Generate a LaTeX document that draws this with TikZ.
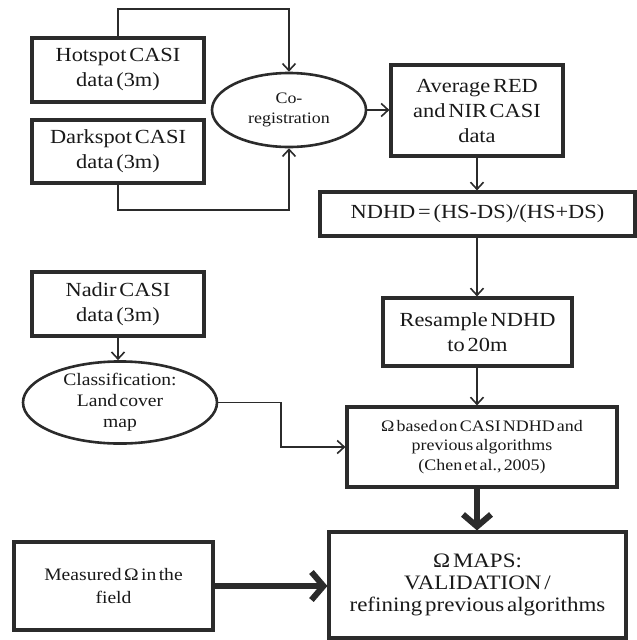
\documentclass[tikz,border=0pt]{standalone}
\usepackage{fontspec}
\setmainfont{Liberation Serif}[FakeStretch=1.12,WordSpace=0.5]
\usetikzlibrary{shapes.geometric,arrows.meta}
\definecolor{ink}{HTML}{2B2B2B}
\begin{document}
\begin{tikzpicture}[x=1pt,y=-1pt,
  box/.style={draw=ink,line width=3.2pt,rectangle,inner sep=0pt,align=center,text=black!90,
    font=\fontsize{20}{25}\selectfont},
  oval/.style={draw=ink,line width=2.6pt,ellipse,inner sep=0pt,align=center,text=black!90},
  thinarrow/.style={draw=ink,line width=1.6pt,-{Straight Barb[length=7pt,width=13pt]}},
  thickarrow/.style={draw=ink,line width=6pt,-{Straight Barb[length=12pt,width=28pt]}}]
\useasboundingbox[fill=white] (0,0) rectangle (637,640);

\node[box,minimum width=172pt,minimum height=64pt] (hot) at (118,70) {Hotspot CASI\\data (3m)};
\node[box,minimum width=172pt,minimum height=63pt] (dark) at (118,151.5) {Darkspot CASI\\data (3m)};
\node[oval,minimum width=154pt,minimum height=74pt,font=\fontsize{16}{20}\selectfont] (co) at (289,110) {Co-\\registration};
\node[box,minimum width=172pt,minimum height=91pt] (avg) at (477,110.5) {Average RED\\and NIR CASI\\data};
\node[box,minimum width=315pt,minimum height=44pt] (ndhd) at (477.5,214) {NDHD = (HS-DS)/(HS+DS)};
\node[box,minimum width=189pt,minimum height=68pt] (res) at (477.5,332) {Resample NDHD\\to 20m};
\node[box,minimum width=172pt,minimum height=64pt] (nadir) at (118,304) {Nadir CASI\\data (3m)};
\node[oval,minimum width=194pt,minimum height=71pt,font=\fontsize{17.5}{21}\selectfont] (cls) at (120,402.5) {Classification:\\Land cover\\map};
\node[box,minimum width=270pt,minimum height=80pt,font=\fontsize{16}{19.5}\selectfont] (omg) at (482,447) {Ω based on CASI NDHD and\\previous algorithms\\(Chen et al., 2005)};
\node[box,minimum width=297pt,minimum height=106pt,font=\fontsize{20.5}{22}\selectfont] (fin) at (477.5,585) {Ω MAPS:\\VALIDATION /\\refining previous algorithms};
\node[box,minimum width=199pt,minimum height=88pt,font=\fontsize{17.5}{23}\selectfont] (meas) at (113.5,586) {Measured Ω in the\\field};

\coordinate (top) at (0,9);
\coordinate (bot) at (0,210);
\coordinate (mid) at (281,447);

\draw[thinarrow] (hot.north) -- (hot.north |- top) -| (co.north);
\draw[thinarrow] (dark.south) -- (dark.south |- bot) -| (co.south);
\draw[thinarrow] (co.east) -- (avg.west |- co.east);
\draw[thinarrow] (avg.south) -- (avg.south |- ndhd.north);
\draw[thinarrow] (avg.south |- ndhd.south) -- (avg.south |- res.north);
\draw[thinarrow] (avg.south |- res.south) -- (avg.south |- omg.north);
\draw[thinarrow] (nadir.south) -- (nadir.south |- cls.north);
\draw[thinarrow] (cls.east) -| (mid) -- (omg.west);
\draw[thickarrow] (avg.south |- omg.south) -- (avg.south |- fin.north);
\draw[thickarrow] (meas.east) -- (fin.west |- meas.east);
\end{tikzpicture}
\end{document}
